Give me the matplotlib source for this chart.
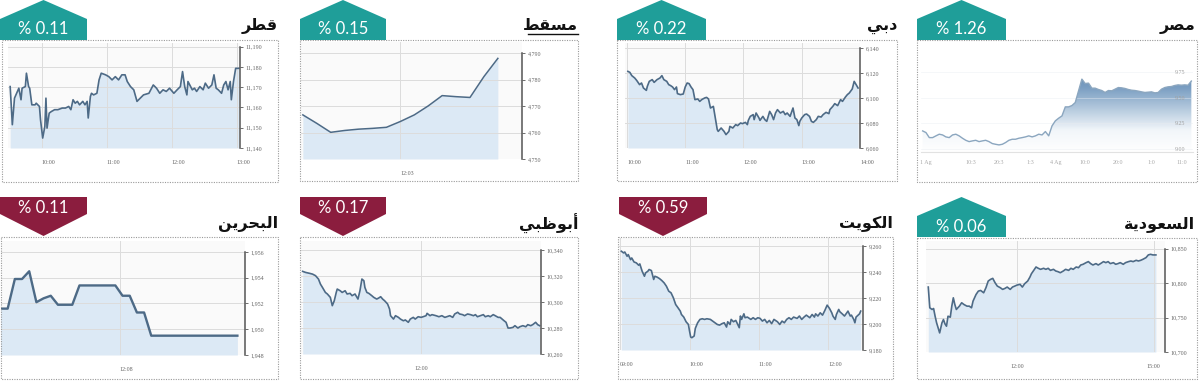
import numpy as np
import matplotlib
matplotlib.use('Agg')
import matplotlib.pyplot as plt
from matplotlib.patches import Rectangle, Polygon
from matplotlib.colors import LinearSegmentedColormap

W, H = 1200, 382

# ---------------- data ----------------
names = ['قطر', 'مسقط', 'دبي', 'مصر', 'البحرين', 'أبوظبي', 'الكويت', 'السعودية']
changes = ['% 0.11', '% 0.15', '% 0.22', '% 1.26', '% 0.11', '% 0.17', '% 0.59', '% 0.06']
direction = ['up', 'up', 'up', 'up', 'down', 'down', 'down', 'up']

# Qatar: minutes after 09:00
qatar_min = [31, 33, 35, 39, 41, 42, 45, 46, 48, 49,
             51, 54, 55, 58, 59, 61, 63, 64, 65, 67,
             69, 72, 75, 79, 82, 85, 87, 89, 91, 93,
             95, 98, 100, 102, 103, 105, 106, 108, 111, 113,
             115, 119, 122, 125, 128, 131, 134, 137, 139, 142,
             145, 148, 151, 154, 159, 163, 166, 169, 172, 175,
             178, 182, 185, 188, 190, 192, 194, 195, 199, 201,
             203, 206, 209, 211, 214, 217, 219, 221, 223, 226,
             228, 230, 232, 234, 235, 237, 239, 242]
qatar_val = [11170.3, 11151.5, 11164.6, 11169.5, 11163.8, 11169.5, 11170.3, 11176.9, 11170.3, 11169.5,
             11161.3, 11161.3, 11162.1, 11160.5, 11153.9, 11144.9, 11150.7, 11164.6, 11149.8, 11157.2,
             11158.0, 11158.9, 11158.9, 11159.7, 11159.7, 11160.5, 11158.9, 11163.8, 11162.1, 11163.0,
             11161.3, 11163.0, 11161.3, 11163.0, 11154.8, 11165.4, 11167.0, 11166.2, 11167.0, 11173.6,
             11176.9, 11176.1, 11175.2, 11173.6, 11175.2, 11173.6, 11176.1, 11176.1, 11172.8, 11170.3,
             11168.7, 11163.0, 11164.6, 11166.2, 11167.0, 11171.1, 11169.5, 11167.0, 11168.7, 11167.9,
             11169.5, 11167.0, 11168.7, 11170.3, 11177.7, 11170.3, 11166.2, 11172.8, 11168.7, 11169.5,
             11167.9, 11170.3, 11168.7, 11172.0, 11169.5, 11171.1, 11176.1, 11169.5, 11168.7, 11167.0,
             11171.1, 11172.8, 11168.7, 11172.8, 11163.8, 11172.8, 11179.3, 11179.3]
qatar_yticks = [11140, 11150, 11160, 11170, 11180, 11190]
qatar_xticks = [60, 120, 180, 240]
qatar_xlabels = ['10:00', '11:00', '12:00', '13:00']

# Muscat: minutes after 10:00
muscat_min = [18, 33, 48, 63, 78, 93, 108, 123, 138, 153, 168, 183, 198, 213, 228]
muscat_val = [4766.7, 4763.5, 4760.1, 4760.8, 4761.3, 4761.6, 4762.0, 4764.2,
              4766.7, 4770.1, 4774.0, 4773.6, 4773.3, 4781.2, 4788.1]
muscat_yticks = [4750, 4760, 4770, 4780, 4790]
muscat_xticks = [123]
muscat_xlabels = ['12:03']

# Dubai: minutes after 10:00
dubai_min = [1, 3, 5, 8, 10, 13, 15, 17, 20, 21,
             23, 26, 28, 31, 34, 36, 38, 41, 43, 45,
             47, 49, 51, 52, 55, 58, 60, 62, 64, 66,
             68, 70, 73, 75, 77, 80, 82, 84, 86, 89,
             91, 93, 94, 97, 100, 102, 105, 106, 109, 112,
             114, 117, 119, 122, 124, 125, 127, 130, 131, 133,
             136, 137, 140, 142, 144, 147, 149, 151, 153, 155,
             158, 161, 163, 165, 168, 171, 173, 175, 177, 178,
             180, 183, 185, 188, 190, 192, 195, 197, 200, 202,
             205, 208, 209, 212, 214, 217, 220, 222, 225, 227,
             229, 232, 234, 236, 238]
dubai_val = [6121.3, 6120.5, 6117.9, 6116.0, 6114.1, 6110.7, 6112.0, 6108.0, 6106.1, 6109.3,
             6113.3, 6114.7, 6112.5, 6114.7, 6116.0, 6117.9, 6114.7, 6113.3, 6110.7, 6109.9,
             6108.8, 6106.7, 6108.8, 6103.5, 6102.7, 6103.2, 6108.8, 6112.0, 6111.5, 6108.8,
             6106.7, 6098.7, 6099.2, 6097.3, 6098.7, 6100.0, 6100.5, 6099.2, 6092.0, 6093.3,
             6084.0, 6074.7, 6073.3, 6076.0, 6073.3, 6070.7, 6073.3, 6077.3, 6076.0, 6078.7,
             6077.9, 6080.0, 6079.5, 6080.5, 6078.7, 6082.1, 6085.3, 6086.7, 6082.7, 6088.0,
             6084.0, 6082.1, 6085.3, 6082.7, 6081.3, 6089.3, 6086.7, 6082.7, 6088.0, 6090.7,
             6088.0, 6089.3, 6086.7, 6088.0, 6085.3, 6092.0, 6084.0, 6082.7, 6077.9, 6081.3,
             6084.0, 6086.7, 6087.2, 6085.3, 6081.3, 6080.5, 6082.7, 6085.3, 6084.8, 6086.7,
             6088.5, 6087.5, 6090.7, 6093.3, 6095.5, 6093.9, 6098.7, 6097.3, 6100.8, 6102.7,
             6104.0, 6107.2, 6113.3, 6110.7, 6108.0]
dubai_yticks = [6060, 6080, 6100, 6120, 6140]
dubai_xticks = [0, 60, 120, 180, 240]
dubai_xlabels = ['10:00', '11:00', '12:00', '13:00', '14:00']

# Egypt: one value per session step
egypt_val = [9.175, 9.159, 9.110, 9.110, 9.127, 9.143, 9.136, 9.117, 9.110, 9.136,
             9.143, 9.127, 9.104, 9.084, 9.071, 9.078, 9.084, 9.071, 9.078, 9.084,
             9.071, 9.052, 9.045, 9.039, 9.045, 9.062, 9.084, 9.094, 9.094, 9.104,
             9.110, 9.117, 9.127, 9.117, 9.127, 9.143, 9.136, 9.169, 9.127, 9.224,
             9.273, 9.299, 9.321, 9.409, 9.409, 9.422, 9.451, 9.565, 9.679, 9.636,
             9.640, 9.591, 9.591, 9.578, 9.568, 9.549, 9.568, 9.565, 9.581, 9.597,
             9.594, 9.588, 9.578, 9.571, 9.568, 9.562, 9.555, 9.549, 9.552, 9.555,
             9.545, 9.549, 9.581, 9.597, 9.604, 9.607, 9.617, 9.623, 9.620, 9.623,
             9.620, 9.660]
egypt_yticks = [9.00, 9.25, 9.50, 9.75]
egypt_xticks = [1, 14.5, 23, 32.5, 40, 49, 59, 69, 78]
egypt_xlabels = ['1 Ag', '10:3', '20:3', '1:3', '4 Ag', '10:0', '20:0', '1:0', '11:0']

# Bahrain: minutes after 10:45
bahrain_min = [0, 5, 10, 15, 20, 25, 30, 35, 40, 45, 50, 55, 60, 65, 70, 75, 80,
               85, 90, 95, 100, 105, 110, 115, 120, 125, 130, 135, 140, 145, 150, 155, 160, 165]
bahrain_val = [1951.6, 1951.6, 1953.9, 1953.9, 1954.5, 1952.1, 1952.4, 1952.6, 1951.9, 1951.9,
               1951.9, 1953.4, 1953.4, 1953.4, 1953.4, 1953.4, 1953.4, 1952.6, 1952.6, 1951.3,
               1951.3, 1949.5, 1949.5, 1949.5, 1949.5, 1949.5, 1949.5, 1949.5, 1949.5, 1949.5,
               1949.5, 1949.5, 1949.5, 1949.5]
bahrain_yticks = [1948, 1950, 1952, 1954, 1956]
bahrain_xticks = [83]
bahrain_xlabels = ['12:08']

# Abu Dhabi: minutes after 10:00
abudhabi_min = [0, 3, 7, 10, 13, 16, 18, 20, 23, 25,
                28, 30, 32, 34, 35, 38, 40, 43, 45, 48,
                50, 53, 56, 58, 60, 62, 63, 65, 67, 70,
                72, 75, 77, 79, 81, 83, 86, 88, 89, 92,
                94, 97, 99, 102, 104, 107, 109, 112, 114, 117,
                120, 122, 125, 126, 129, 131, 135, 138, 141, 144,
                146, 149, 152, 154, 157, 159, 162, 164, 167, 170,
                173, 175, 177, 180, 183, 185, 188, 190, 193, 195,
                198, 200, 202, 204, 206, 208, 210, 213, 215, 218,
                220, 223, 226, 228, 231, 233, 236, 238, 240]
abudhabi_val = [10323.6, 10322.8, 10322.1, 10321.5, 10320.3, 10317.7, 10313.8, 10311.3, 10307.4, 10306.2,
                10303.6, 10297.2, 10301.0, 10307.4, 10310.0, 10308.7, 10307.4, 10308.7, 10306.2, 10306.7,
                10304.9, 10306.2, 10302.3, 10308.7, 10317.7, 10316.4, 10311.3, 10307.4, 10306.7, 10304.9,
                10303.6, 10302.3, 10303.1, 10304.1, 10302.3, 10301.0, 10298.5, 10294.6, 10289.5, 10286.9,
                10289.5, 10288.2, 10286.9, 10285.6, 10286.2, 10284.4, 10286.9, 10288.2, 10286.9, 10288.7,
                10288.2, 10288.7, 10289.5, 10291.3, 10289.5, 10290.3, 10289.5, 10288.7, 10289.5, 10288.2,
                10288.7, 10289.5, 10288.2, 10290.8, 10292.1, 10290.8, 10290.3, 10289.5, 10290.8, 10290.3,
                10289.5, 10290.3, 10288.7, 10289.5, 10290.3, 10288.7, 10289.5, 10288.7, 10290.3, 10289.5,
                10288.2, 10288.2, 10286.9, 10285.6, 10284.4, 10280.0, 10280.0, 10280.5, 10281.8, 10280.0,
                10281.0, 10281.8, 10281.0, 10282.6, 10281.8, 10282.6, 10284.4, 10282.6, 10281.8]
abudhabi_yticks = [10260, 10280, 10300, 10320, 10340]
abudhabi_xticks = [120]
abudhabi_xlabels = ['12:00']

# Kuwait: minutes after 09:00
kuwait_min = [1, 3, 4, 6, 7, 9, 10, 12, 14, 16,
              17, 19, 21, 22, 24, 25, 27, 29, 30, 32,
              34, 36, 38, 40, 42, 44, 46, 48, 50, 52,
              53, 55, 56, 57, 59, 60, 61, 62, 64, 65,
              67, 69, 71, 73, 75, 78, 80, 82, 84, 86,
              88, 90, 92, 93, 95, 96, 98, 100, 101, 103,
              104, 105, 107, 108, 110, 113, 115, 117, 119, 121,
              123, 125, 127, 129, 131, 133, 136, 138, 140, 142,
              144, 146, 148, 150, 153, 155, 157, 159, 161, 164,
              166, 168, 169, 171, 173, 175, 177, 179, 181, 183,
              184, 186, 187, 189, 190, 192, 194, 196, 197, 199,
              200, 202, 203, 204, 207, 208]
kuwait_val = [9256.2, 9254.9, 9255.6, 9252.3, 9253.6, 9249.7, 9251.0, 9247.9, 9247.2, 9245.4,
              9246.4, 9240.8, 9236.9, 9239.5, 9240.8, 9242.1, 9241.3, 9234.4, 9236.9, 9236.2,
              9235.1, 9233.6, 9231.8, 9229.2, 9225.4, 9224.1, 9220.3, 9215.1, 9212.6, 9210.0,
              9207.4, 9205.4, 9203.6, 9201.8, 9199.7, 9194.6, 9190.0, 9189.5, 9190.8, 9196.7,
              9201.0, 9203.6, 9204.1, 9203.6, 9204.1, 9203.6, 9202.3, 9201.0, 9199.7, 9199.2,
              9200.3, 9201.0, 9197.7, 9201.8, 9199.7, 9203.6, 9201.8, 9202.8, 9201.0, 9197.2,
              9206.2, 9203.6, 9207.9, 9204.9, 9205.4, 9203.6, 9204.9, 9203.6, 9204.9, 9204.4,
              9202.3, 9203.6, 9201.0, 9202.8, 9200.3, 9203.6, 9201.8, 9199.7, 9202.3, 9201.0,
              9203.6, 9204.9, 9203.6, 9205.4, 9204.4, 9206.2, 9203.6, 9205.4, 9206.9, 9204.9,
              9207.4, 9205.4, 9207.9, 9206.2, 9208.7, 9206.9, 9210.5, 9214.6, 9212.1, 9208.7,
              9206.2, 9203.6, 9207.4, 9211.3, 9209.5, 9207.9, 9206.2, 9208.7, 9210.0, 9206.2,
              9206.9, 9203.6, 9201.0, 9205.4, 9207.9, 9210.0]
kuwait_yticks = [9180, 9200, 9220, 9240, 9260]
kuwait_xticks = [0, 60, 120, 180]
kuwait_xlabels = ['09:00', '10:00', '11:00', '12:00']

# Saudi: minutes after 10:00
saudi_min = [3, 5, 8, 10, 12, 14, 16, 18, 21, 23,
             25, 27, 29, 32, 34, 36, 38, 40, 44, 47,
             50, 54, 57, 60, 62, 66, 69, 72, 76, 79,
             82, 85, 88, 91, 94, 98, 101, 104, 107, 111,
             114, 117, 120, 124, 127, 130, 134, 137, 139, 142,
             145, 148, 151, 155, 158, 161, 164, 168, 171, 174,
             177, 181, 184, 188, 191, 194, 198, 201, 204, 207,
             211, 214, 217, 220, 224, 227, 230, 234, 237, 240,
             243, 247, 250, 253, 256, 260, 263, 267, 270, 273,
             277, 280, 283, 286, 290, 293, 296, 299, 303]
saudi_val = [10794.2, 10764.1, 10761.7, 10763.1, 10751.9, 10742.2, 10735.0, 10727.7, 10742.2, 10747.1,
             10740.8, 10737.4, 10751.9, 10750.5, 10766.5, 10778.6, 10768.9, 10761.7, 10766.5, 10771.4,
             10768.9, 10766.5, 10766.5, 10764.1, 10773.8, 10783.5, 10788.3, 10789.3, 10785.9, 10793.2,
             10802.9, 10805.3, 10806.8, 10800.5, 10795.6, 10793.2, 10790.8, 10792.2, 10794.2, 10790.8,
             10794.2, 10795.6, 10797.1, 10798.1, 10794.2, 10799.0, 10802.9, 10808.7, 10813.6, 10818.4,
             10823.3, 10821.4, 10819.9, 10821.4, 10819.9, 10821.4, 10818.4, 10819.9, 10817.5, 10816.5,
             10815.0, 10817.5, 10819.9, 10818.4, 10821.4, 10819.9, 10823.3, 10822.3, 10826.2, 10827.2,
             10829.6, 10831.1, 10828.2, 10826.2, 10828.2, 10826.2, 10828.2, 10831.1, 10829.6, 10831.1,
             10828.2, 10829.6, 10827.2, 10828.2, 10829.6, 10827.2, 10829.6, 10831.1, 10832.0, 10831.1,
             10833.0, 10832.0, 10833.0, 10834.5, 10836.9, 10840.8, 10841.7, 10840.8, 10840.8]
saudi_yticks = [10700, 10750, 10800, 10850]
saudi_xticks = [120, 300]
saudi_xlabels = ['12:00', '15:00']

# ---------------- style ----------------
TEAL = '#1f9e99'
MAROON = '#8b1d3e'
LINE = '#4d6a86'
FILL = '#dce9f5'
GRID = '#dcdcdc'
TICKFONT = 'Liberation Serif'

# Arabic contextual forms: isolated, final, initial, medial
AR_FORMS = {
    'ا': ('\uFE8D', '\uFE8E', None, None),
    'أ': ('\uFE83', '\uFE84', None, None),
    'ب': ('\uFE8F', '\uFE90', '\uFE91', '\uFE92'),
    'ة': ('\uFE93', '\uFE94', None, None),
    'ت': ('\uFE95', '\uFE96', '\uFE97', '\uFE98'),
    'ح': ('\uFEA1', '\uFEA2', '\uFEA3', '\uFEA4'),
    'د': ('\uFEA9', '\uFEAA', None, None),
    'ر': ('\uFEAD', '\uFEAE', None, None),
    'س': ('\uFEB1', '\uFEB2', '\uFEB3', '\uFEB4'),
    'ص': ('\uFEB9', '\uFEBA', '\uFEBB', '\uFEBC'),
    'ط': ('\uFEC1', '\uFEC2', '\uFEC3', '\uFEC4'),
    'ظ': ('\uFEC5', '\uFEC6', '\uFEC7', '\uFEC8'),
    'ع': ('\uFEC9', '\uFECA', '\uFECB', '\uFECC'),
    'ق': ('\uFED5', '\uFED6', '\uFED7', '\uFED8'),
    'ك': ('\uFED9', '\uFEDA', '\uFEDB', '\uFEDC'),
    'ل': ('\uFEDD', '\uFEDE', '\uFEDF', '\uFEE0'),
    'م': ('\uFEE1', '\uFEE2', '\uFEE3', '\uFEE4'),
    'ن': ('\uFEE5', '\uFEE6', '\uFEE7', '\uFEE8'),
    'و': ('\uFEED', '\uFEEE', None, None),
    'ي': ('\uFEF1', '\uFEF2', '\uFEF3', '\uFEF4'),
}


def shape_arabic(word):
	# matplotlib has no Arabic shaping, so pick the joined forms and reverse
	out = []
	for i, ch in enumerate(word):
		iso, fin, ini, med = AR_FORMS[ch]
		joins_prev = i > 0 and AR_FORMS[word[i - 1]][2] is not None
		joins_next = i < len(word) - 1 and ini is not None
		if joins_prev and joins_next:
			out.append(med)
		elif joins_prev:
			out.append(fin)
		elif joins_next:
			out.append(ini)
		else:
			out.append(iso)
	return ''.join(reversed(out))


def px_rect(left, top, right, bottom):
	return [left / W, 1 - bottom / H, (right - left) / W, (bottom - top) / H]


def line_panel(fig, box, x, y, xlim, ylim, yticks, xticks, xlabels, xha='left', lw=1.2):
	ax = fig.add_axes(px_rect(*box))
	ax.set_facecolor('#fafafa')
	ax.fill_between(x, y, ylim[0], color=FILL, lw=0, zorder=1)
	ax.plot(x, y, color=LINE, lw=lw, zorder=2, solid_joinstyle='round')
	ax.set_xlim(xlim)
	ax.set_ylim(ylim)

	ax.yaxis.tick_right()
	ax.set_yticks(yticks)
	ax.set_yticklabels([f'{v:,}' for v in yticks])
	ax.set_xticks(xticks)
	ax.set_xticklabels(xlabels)
	for s in ['top', 'left', 'bottom']:
		ax.spines[s].set_visible(False)
	ax.spines['right'].set_bounds(yticks[0], yticks[-1])
	ax.spines['right'].set_color('#555555')
	ax.spines['right'].set_linewidth(1.1)

	ax.tick_params(axis='x', length=0, pad=8.5, labelsize=4.3, labelcolor='#666666')
	ax.tick_params(axis='y', length=2.5, width=0.6, color='#555555', pad=1.5,
	               labelsize=4.3, labelcolor='#666666')
	for lab in ax.get_xticklabels():
		lab.set_fontfamily(TICKFONT)
		lab.set_ha(xha)
	for lab in ax.get_yticklabels():
		lab.set_fontfamily(TICKFONT)

	ax.grid(True, color=GRID, lw=0.7)
	ax.set_axisbelow('line')
	return ax


def egypt_panel(fig, box):
	ax = fig.add_axes(px_rect(*box))
	ax.set_facecolor('white')
	x = np.arange(len(egypt_val))
	ylim = (8.97, 10.04)
	xlim = (-0.5, 81.5)
	poly = ax.fill_between(x, egypt_val, ylim[0], facecolor='none', lw=0)
	cmap = LinearSegmentedColormap.from_list('eg', ['#ffffff', '#f2f6fa', '#b5cade', '#7a9ec2', '#5f89b2'])
	grad = np.linspace(0, 1, 256).reshape(-1, 1)
	im = ax.imshow(grad, extent=(xlim[0], xlim[1], ylim[0], 9.8), origin='lower',
	               aspect='auto', cmap=cmap, zorder=0.2)
	im.set_clip_path(poly.get_paths()[0], transform=ax.transData)
	ax.plot(x, egypt_val, color='#8ba6bf', lw=1.0, zorder=2)
	ax.set_xlim(xlim)
	ax.set_ylim(ylim)

	ax.yaxis.tick_right()
	ax.set_yticks(egypt_yticks)
	ax.set_yticklabels([f'{v:.2f}' for v in egypt_yticks])
	ax.set_xticks(egypt_xticks)
	ax.set_xticklabels(egypt_xlabels)
	for s in ['top', 'left', 'right']:
		ax.spines[s].set_visible(False)
	ax.spines['bottom'].set_color('#e2e2e2')
	ax.tick_params(axis='x', length=0, pad=6, labelsize=4.3, labelcolor='#aaaaaa')
	ax.tick_params(axis='y', length=0, pad=-13, labelsize=4.3, labelcolor='#a0a0a0')
	for lab in ax.get_xticklabels() + ax.get_yticklabels():
		lab.set_fontfamily(TICKFONT)
	ax.grid(True, axis='y', color='#e8edf2', lw=0.5, alpha=0.6)
	ax.set_axisbelow(True)
	return ax


def main():
	fig = plt.figure(figsize=(12, 3.82), dpi=100)
	fig.patch.set_facecolor('white')

	line_panel(fig, (8, 43, 240, 148), qatar_min, qatar_val, (29, 243), (11140, 11191.8),
	           qatar_yticks, qatar_xticks, qatar_xlabels)
	line_panel(fig, (301, 42, 522, 159), muscat_min, muscat_val, (16, 254), (4750, 4794.3),
	           muscat_yticks, muscat_xticks, muscat_xlabels, lw=1.1)
	line_panel(fig, (625, 43, 860, 148), dubai_min, dubai_val, (-2, 240), (6060, 6144),
	           dubai_yticks, dubai_xticks, dubai_xlabels)
	egypt_panel(fig, (921, 42, 1193, 152))

	line_panel(fig, (0.5, 241, 245, 355), bahrain_min, bahrain_val, (0, 170.3), (1948, 1956.85),
	           bahrain_yticks, bahrain_xticks, bahrain_xlabels, lw=1.7)
	line_panel(fig, (301, 241, 541, 354), abudhabi_min, abudhabi_val, (-1.7, 241.4), (10260, 10347),
	           abudhabi_yticks, abudhabi_xticks, abudhabi_xlabels, xha='center')
	line_panel(fig, (619, 238, 863, 350), kuwait_min, kuwait_val, (-1, 210), (9180, 9266.4),
	           kuwait_yticks, kuwait_xticks, kuwait_xlabels)
	line_panel(fig, (926, 241, 1165, 352), saudi_min, saudi_val, (0, 315), (10700, 10861),
	           saudi_yticks, saudi_xticks, saudi_xlabels, xha='center')

	# overlay in pixel units for frames, badges and titles
	ov = fig.add_axes([0, 0, 1, 1])
	ov.set_xlim(0, W)
	ov.set_ylim(H, 0)
	ov.axis('off')
	ov.set_zorder(10)
	ov.patch.set_alpha(0)

	frames = [(2, 40, 278, 182), (300, 40, 578, 181), (617, 40, 897, 181), (917, 40, 1197, 182),
	          (0.5, 237, 278, 379), (300, 237, 578, 379), (618, 237, 893, 379), (917, 238, 1197, 379)]
	badges = [(0, 87), (300, 386), (617, 706), (917, 1006),
	          (0, 87), (300, 386), (619, 707), (917, 1006)]
	title_right = [278, 578, 897, 1195, 278, 578, 893, 1195]

	for i in range(8):
		l, t, r, b = frames[i]
		ov.add_patch(Rectangle((l, t), r - l, b - t, fill=False, ec='#9a9a9a',
		                       lw=0.8, ls=(0, (1, 1.2))))
		bl, br = badges[i]
		mid = (bl + br) / 2
		if direction[i] == 'up':
			top = 0 if i < 4 else 197
			bot = 40 if i < 4 else 237
			pts = [(bl, bot), (bl, top + 19), (mid, top), (br, top + 19), (br, bot)]
			ty = (top + 19 + bot) / 2
			col = TEAL
		else:
			pts = [(bl, 197), (br, 197), (br, 214), (mid, 236), (bl, 214)]
			ty = 208
			col = MAROON
		ov.add_patch(Polygon(pts, closed=True, fc=col, ec='none'))
		ov.text(mid, ty, changes[i], color='white', ha='center', va='center',
		        fontsize=12, family='Lato')

		ty_title = 26 if i < 4 else 224
		ov.text(title_right[i], ty_title, shape_arabic(names[i]), ha='right', va='center',
		        fontsize=11.5, fontweight='bold', family='DejaVu Sans', color='#111111')

	# the Muscat title is underlined in the original
	ov.plot([528, 578], [33.5, 33.5], color='#111111', lw=1.0)

	fig.savefig('out.png', dpi=100)


if __name__ == '__main__':
	main()
